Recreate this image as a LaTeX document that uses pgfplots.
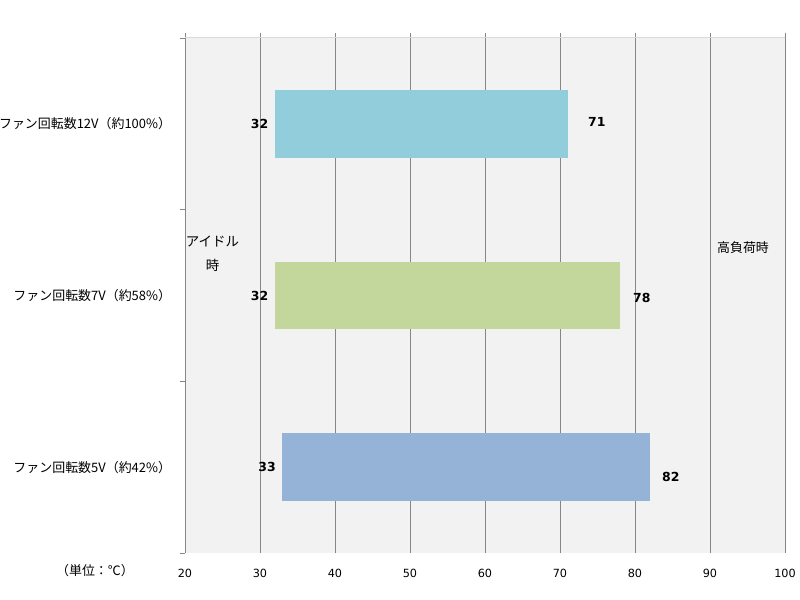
\documentclass[border=0pt]{standalone}
\usepackage{pgfplots}
\pgfplotsset{compat=1.18}
\usepackage{fontspec}
\setmainfont{DejaVu Sans}
\newfontfamily\jpfont{Noto Sans CJK JP}
\definecolor{bgc}{HTML}{F2F2F2}
\definecolor{gridc}{HTML}{868686}
\definecolor{topc}{HTML}{D9D9D9}
\definecolor{cA}{HTML}{92CDDC}
\definecolor{cB}{HTML}{C3D69B}
\definecolor{cC}{HTML}{95B3D7}
\begin{document}
\begin{tikzpicture}
\path[use as bounding box] (-185bp,-47bp) rectangle (615bp,553bp);
\begin{axis}[
  scale only axis, width=600bp, height=515bp,
  xmin=20, xmax=100, ymin=-0.5, ymax=2.5,
  enlargelimits=false, clip=false,
  axis background/.style={fill=bgc},
  axis line style={draw=none},
  xtick={20,30,40,50,60,70,80,90,100},
  xticklabels={20,30,40,50,60,70,80,90,100},
  xmajorgrids, major grid style={gridc, line width=0.8bp},
  xtick pos=right, xticklabel pos=left,
  tick align=outside, major tick length=4.5bp,
  tick style={gridc, line width=0.8bp},
  xticklabel style={font=\fontsize{11.3}{13}\selectfont, yshift=-8.5bp},
  ytick={-0.5,0.5,1.5,2.5},
  ytick pos=left,
  y tick label as interval,
  yticklabels={ファン回転数5V（約42\%）, ファン回転数7V（約58\%）, ファン回転数12V（約100\%）, {}},
  yticklabel style={font=\jpfont\fontsize{13}{15}\selectfont, anchor=east, xshift=-6bp},
]
% idle (start) -> high load (end), bar half-height 0.198
\addplot[draw=none, fill=cA] coordinates {(32,1.802) (71,1.802) (71,2.198) (32,2.198)} -- cycle;
\addplot[draw=none, fill=cB] coordinates {(32,0.802) (78,0.802) (78,1.198) (32,1.198)} -- cycle;
\addplot[draw=none, fill=cC] coordinates {(33,-0.198) (82,-0.198) (82,0.198) (33,0.198)} -- cycle;
\draw[topc, line width=1bp] (rel axis cs:0,1) -- (rel axis cs:1,1);
\node[font=\bfseries\fontsize{12.5}{14}\selectfont, inner sep=0pt, anchor=east, xshift=-6.5bp] at (axis cs:32,2) {32};
\node[font=\bfseries\fontsize{12.5}{14}\selectfont, inner sep=0pt, anchor=east, xshift=-6.5bp] at (axis cs:32,1) {32};
\node[font=\bfseries\fontsize{12.5}{14}\selectfont, inner sep=0pt, anchor=east, xshift=-6.5bp] at (axis cs:33,0) {33};
\node[font=\bfseries\fontsize{12.5}{14}\selectfont, inner sep=0pt, anchor=west, xshift=20.5bp, yshift=2bp] at (axis cs:71,2) {71};
\node[font=\bfseries\fontsize{12.5}{14}\selectfont, inner sep=0pt, anchor=west, xshift=13bp, yshift=-2bp] at (axis cs:78,1) {78};
\node[font=\bfseries\fontsize{12.5}{14}\selectfont, inner sep=0pt, anchor=west, xshift=12bp, yshift=-9.5bp] at (axis cs:82,0) {82};
\node[font=\jpfont\fontsize{13.5}{24}\selectfont, align=center] at (axis cs:23.67,1.242) {アイドル\\時};
\node[font=\jpfont\fontsize{13}{15}\selectfont] at (axis cs:94.4,1.277) {高負荷時};
\node[font=\jpfont\fontsize{13}{15}\selectfont] at (axis cs:8,-0.605) {（単位：℃）};
\end{axis}
\end{tikzpicture}
\end{document}
